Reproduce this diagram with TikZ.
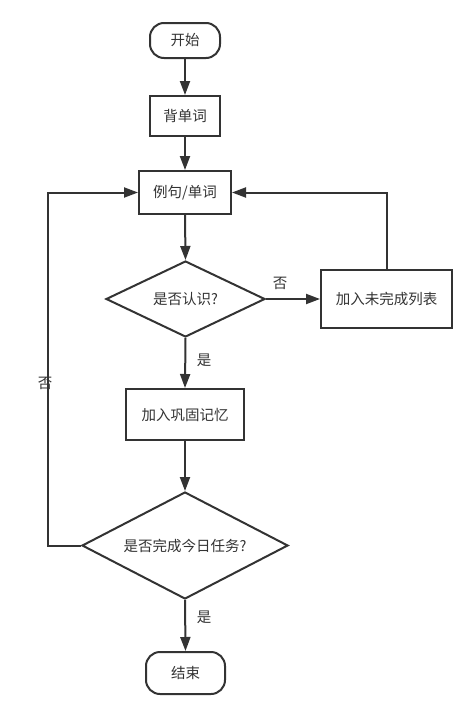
\documentclass[tikz,border=0pt]{standalone}
\usepackage{fontspec}
\setmainfont{Noto Sans CJK SC}
\usetikzlibrary{shapes.geometric,arrows.meta}
\definecolor{ln}{HTML}{333333}
\tikzset{
  every node/.style={font=\fontsize{14.5pt}{17pt}\selectfont, text=ln},
  base/.style={draw=ln, line width=2pt, inner sep=0pt, fill=white},
  term/.style={base, rounded corners=14pt},
  boxn/.style={base},
  dec/.style={base, diamond},
  conn/.style={draw=ln, line width=2pt, -{Triangle[length=14pt,width=10pt]}},
  lab/.style={font=\fontsize{14.5pt}{17pt}\selectfont}
}
\begin{document}
\begin{tikzpicture}[x=1pt,y=-1pt]
\useasboundingbox (0,0) rectangle (471,712);
\node[term, minimum width=70pt, minimum height=35pt] (start) at (185,40.5) {开始};
\node[boxn, minimum width=70pt, minimum height=40pt] (bei) at (185,116) {背单词};
\node[boxn, minimum width=92pt, minimum height=43pt] (li) at (185,192.5) {例句/单词};
\node[dec, minimum width=159pt, minimum height=76pt, aspect=2.09] (d1) at (185.5,299) {是否认识?};
\node[boxn, minimum width=131pt, minimum height=58pt] (wei) at (386.5,299) {加入未完成列表};
\node[boxn, minimum width=118pt, minimum height=51pt] (gong) at (185,414.5) {加入巩固记忆};
\node[dec, minimum width=206pt, minimum height=107pt, aspect=1.93] (d2) at (185,545.5) {是否完成今日任务?};
\node[term, minimum width=79pt, minimum height=42pt] (end) at (185.5,673) {结束};
\coordinate (lx) at (48,0);

\draw[conn] (start) -- (bei);
\draw[conn] (bei) -- (li);
\draw[conn] (li.south) -- (d1.north);
\draw[conn] (d1.east) -- (wei.west);
\draw[conn] (wei.north) |- (li.east);
\draw[conn] (d1.south) -- (gong.north);
\draw[conn] (gong.south) -- (d2.north);
\draw[conn] (d2.south) -- (end.north);
\draw[conn] (d2.west) -| (lx |- li.west) -- (li.west);

\node[lab] (no1) at (280,283) {否};
\node[lab] (yes1) at (204,360) {是};
\node[lab] (no2) at (45,383) {否};
\node[lab] (yes2) at (204,617) {是};
\end{tikzpicture}
\end{document}
